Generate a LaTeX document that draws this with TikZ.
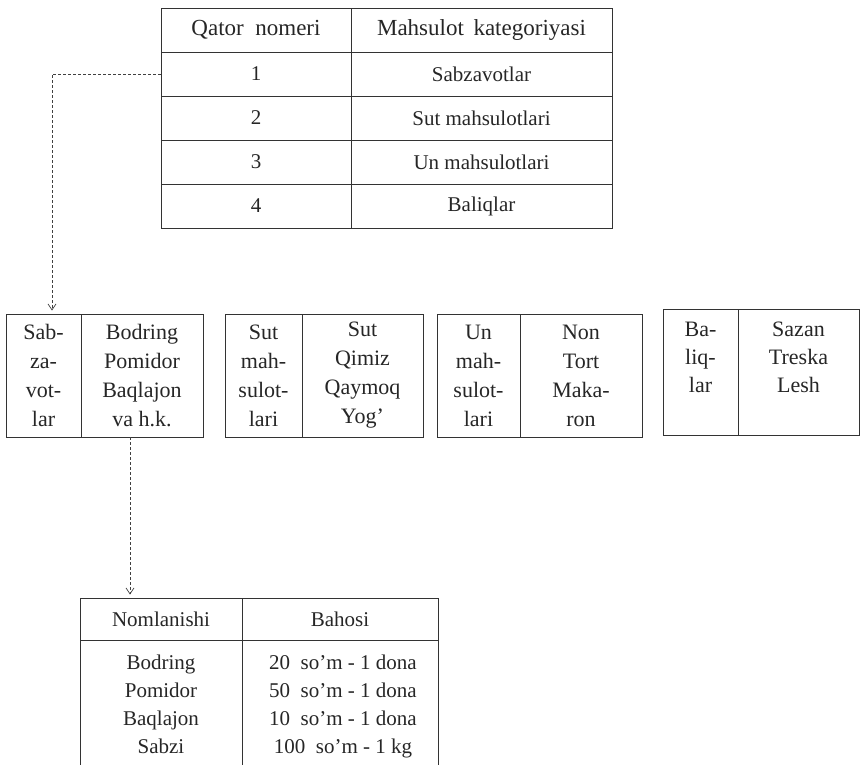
\documentclass[tikz,border=0pt]{standalone}
\usepackage{fontspec}
\setmainfont{Liberation Serif}
\usetikzlibrary{arrows.meta}
\begin{document}
\begin{tikzpicture}[x=1pt,y=-1pt,
  every node/.style={font=\fontsize{21}{29}\selectfont, text=black!85, inner sep=0pt},
  cell/.style={draw=black!80, line width=0.9pt, align=center},
  mid/.style={cell, font=\fontsize{22}{29}\selectfont},
  txt/.style={align=center, anchor=north, font=\fontsize{22}{28}\selectfont},
  conn/.style={draw=black!75, line width=0.7pt, densely dashed, -{Straight Barb[length=6pt,width=8pt]}, shorten >=3pt}]
\useasboundingbox (0,0) rectangle (860,765);
% top table
\node[cell, minimum width=190pt, minimum height=44pt, font=\fontsize{23}{29}\selectfont] (ha) at (256,30) {Qator\ \ nomeri};
\node[cell, minimum width=261pt, minimum height=44pt, font=\fontsize{23}{29}\selectfont] (hb) at (481.5,30) {Mahsulot\, kategoriyasi};
\node[cell, minimum width=190pt, minimum height=44pt] (r1a) at (256,74) {1};
\node[cell, minimum width=261pt, minimum height=44pt] (r1b) at (481.5,74) {Sabzavotlar};
\node[cell, minimum width=190pt, minimum height=44pt] (r2a) at (256,118) {2};
\node[cell, minimum width=261pt, minimum height=44pt] (r2b) at (481.5,118) {Sut mahsulotlari};
\node[cell, minimum width=190pt, minimum height=44pt] (r3a) at (256,162) {3};
\node[cell, minimum width=261pt, minimum height=44pt] (r3b) at (481.5,162) {Un mahsulotlari};
\node[cell, minimum width=190pt, minimum height=44pt] (r4a) at (256,206) {4};
\node[cell, minimum width=261pt, minimum height=44pt] (r4b) at (481.5,206) {Baliqlar};
% middle boxes
\node[mid, minimum width=75pt, minimum height=123pt] (b1a) at (43.5,375.5) {Sab-\\za-\\vot-\\lar};
\node[mid, minimum width=122pt, minimum height=123pt] (b1b) at (142,375.5) {Bodring\\Pomidor\\Baqlajon\\va h.k.};
\node[mid, minimum width=77pt, minimum height=123pt] (b2a) at (263.5,375.5) {Sut\\mah-\\sulot-\\lari};
\node[mid, minimum width=121pt, minimum height=123pt] (b2b) at (362.5,375.5) {Sut\\Qimiz\\Qaymoq\\Yog'};
\node[mid, minimum width=83pt, minimum height=123pt] (b3a) at (478.5,375.5) {Un\\mah-\\sulot-\\lari};
\node[mid, minimum width=122pt, minimum height=123pt] (b3b) at (581,375.5) {Non\\Tort\\Maka-\\ron};
\node[cell, minimum width=75pt, minimum height=126pt] (b4a) at (700.5,372) {};
\node[cell, minimum width=121pt, minimum height=126pt] (b4b) at (798.5,372) {};
\node[txt] (t4a) at (700.5,322) {Ba-\\liq-\\lar};
\node[txt] (t4b) at (798.5,322) {Sazan\\Treska\\Lesh};
% bottom table
\node[cell, minimum width=162pt, minimum height=42pt] (pa) at (161,619) {Nomlanishi};
\node[cell, minimum width=196pt, minimum height=42pt] (pb) at (340,619) {Bahosi};
\node[cell, minimum width=162pt, minimum height=140pt] (qa) at (161,710) {};
\node[cell, minimum width=196pt, minimum height=140pt] (qb) at (340,710) {};
\node[txt, font=\fontsize{21}{28}\selectfont] (ua) at (161,655) {Bodring\\Pomidor\\Baqlajon\\Sabzi};
\node[txt, font=\fontsize{21}{28}\selectfont] (ub) at (343,655) {20\ \ so'm - 1 dona\\50\ \ so'm - 1 dona\\10\ \ so'm - 1 dona\\100\ \ so'm - 1 kg};
% connectors
\draw[conn] (r1a.west) -| ([xshift=8.5pt]b1a.north);
\draw[conn] ([xshift=-12pt]b1b.south) -- ([xshift=-31pt]pa.north);
\end{tikzpicture}
\end{document}
